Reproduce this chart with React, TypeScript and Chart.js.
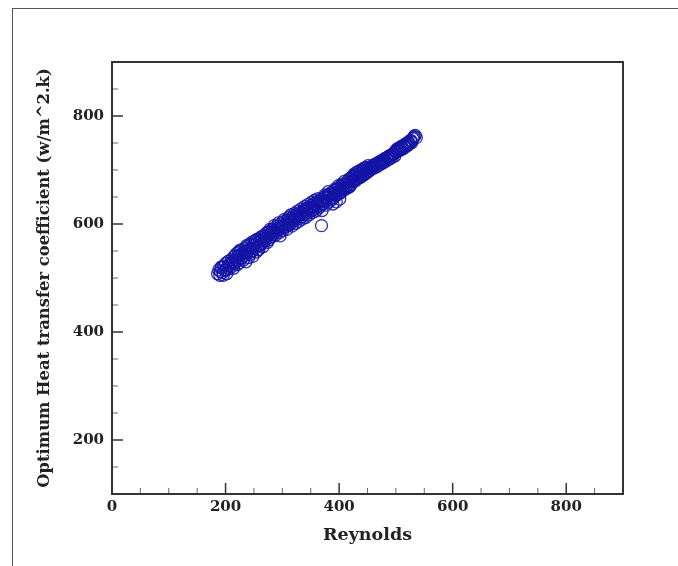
import React, { useEffect, useRef } from "react";
import { Chart, registerables } from "chart.js";
Chart.register(...registerables);

const reynolds = [
  186, 188, 190, 191, 193, 195, 197, 199, 200, 202, 204, 205, 207, 209, 210, 212, 213, 215, 216, 218,
  219, 220, 222, 223, 224, 226, 227, 228, 230, 231, 232, 234, 235, 236, 238, 239, 240, 242, 243, 244,
  246, 247, 248, 250, 251, 252, 254, 255, 256, 258, 259, 260, 262, 263, 265, 266, 268, 270, 271, 272,
  274, 276, 277, 279, 280, 282, 284, 285, 287, 289, 290, 292, 294, 296, 297, 298, 300, 302, 304, 305,
  307, 309, 310, 312, 314, 316, 318, 320, 322, 324, 326, 328, 330, 332, 334, 336, 338, 340, 342, 344,
  346, 348, 350, 352, 354, 356, 358, 360, 362, 364, 366, 368, 369, 370, 371, 372, 374, 376, 378, 380,
  382, 384, 386, 388, 389, 390, 392, 394, 395, 396, 398, 400, 401, 402, 404, 406, 408, 410, 412, 414,
  416, 418, 419, 420, 422, 424, 426, 428, 430, 432, 434, 436, 438, 440, 442, 444, 446, 448, 450, 452,
  454, 456, 458, 460, 462, 464, 466, 468, 470, 472, 474, 476, 478, 480, 482, 484, 486, 488, 490, 492,
  494, 496, 498, 500, 502, 504, 506, 508, 510, 512, 514, 516, 518, 520, 522, 524, 526, 528, 530, 532,
  534, 536,
  192, 196, 201, 206, 211, 214, 217, 221, 225, 229, 233, 237, 241, 245, 249, 253, 257, 261, 264, 267,
  269, 273, 275, 278, 281, 283, 286, 288, 291, 293, 295, 299, 301, 303, 306, 308, 311, 313, 315, 317,
  319, 321, 323, 325, 327, 329, 331, 333, 335, 337, 339, 341, 343, 345, 347, 349, 351, 353, 355, 357,
  359, 361, 363, 365, 367, 373, 375, 377, 379, 381, 383, 385, 387, 391, 393, 397, 399, 403, 405, 407,
  409, 411, 413, 415, 417, 421, 423, 425, 427, 429, 431, 433, 435, 437, 439, 441, 443, 445, 447, 449,
  451, 455, 459, 463, 467, 471, 475, 479, 483, 487, 491, 495, 499, 503, 507, 511, 515, 519, 523, 527,
  531,
];

const heatCoeff = [
  508, 515, 505, 512, 519, 510, 522, 514, 527, 508, 520, 531, 517, 525, 534, 522, 529, 540, 527, 535,
  545, 531, 540, 548, 528, 543, 536, 552, 546, 533, 541, 555, 549, 530, 545, 558, 551, 562, 544, 555,
  566, 550, 540, 560, 568, 555, 548, 565, 572, 560, 553, 568, 575, 563, 571, 558, 578, 569, 582, 575,
  566, 580, 586, 576, 583, 590, 580, 587, 593, 585, 591, 597, 589, 578, 595, 601, 592, 598, 605, 594,
  601, 607, 598, 604, 610, 603, 609, 615, 606, 612, 618, 610, 616, 622, 613, 620, 626, 617, 624, 630,
  621, 628, 634, 625, 632, 638, 629, 636, 642, 633, 640, 646, 597, 625, 637, 644, 650, 641, 648, 654,
  645, 652, 658, 649, 637, 656, 662, 653, 641, 660, 666, 657, 646, 664, 670, 661, 668, 674, 665, 672,
  678, 669, 670, 684, 678, 686, 682, 690, 684, 692, 687, 694, 689, 696, 691, 699, 694, 701, 697, 704,
  699, 706, 702, 709, 704, 711, 706, 713, 709, 716, 711, 718, 714, 721, 716, 723, 719, 726, 721, 728,
  724, 731, 726, 733, 739, 735, 741, 737, 744, 739, 746, 742, 749, 745, 752, 748, 755, 751, 758, 762,
  764, 760,
  520, 505, 516, 523, 530, 518, 541, 525, 551, 538, 548, 560, 538, 549, 563, 570, 552, 561, 577, 566,
  573, 584, 570, 590, 576, 586, 597, 579, 588, 602, 584, 596, 588, 608, 599, 590, 612, 598, 617, 596,
  607, 619, 601, 614, 624, 605, 619, 628, 609, 624, 632, 612, 627, 636, 617, 630, 640, 621, 627, 644,
  624, 638, 647, 630, 643, 638, 654, 635, 650, 660, 641, 656, 645, 649, 665, 654, 671, 658, 674, 664,
  679, 668, 676, 667, 683, 673, 688, 679, 693, 680, 696, 684, 698, 686, 700, 689, 703, 692, 705, 695,
  708, 702, 706, 709, 712, 714, 716, 719, 722, 724, 726, 729, 735, 737, 739, 742, 744, 747, 750, 753,
  760,
];

const xTickLabels = [0, 200, 400, 600, 800];
const yTickLabels = [200, 400, 600, 800];
const xMinorTicks = [50, 100, 150, 250, 300, 350, 450, 500, 550, 650, 700, 750, 850];
const yMinorTicks = [150, 250, 300, 350, 450, 500, 550, 650, 700, 750, 850];

const FONT = "'DejaVu Serif', serif";

export default function App() {
  const ref = useRef<HTMLCanvasElement>(null);

  useEffect(() => {
    document.body.style.margin = "0";
    const canvas = ref.current;
    if (!canvas) return;

    const framePlugin = {
      id: "frameTicks",
      afterDatasetsDraw(chart: any) {
        const { ctx, chartArea } = chart;
        const xs = chart.scales.x;
        const ys = chart.scales.y;
        ctx.save();
        ctx.strokeStyle = "#333";
        ctx.lineWidth = 1.5;
        ctx.beginPath();
        xTickLabels.forEach((v) => {
          const px = xs.getPixelForValue(v);
          ctx.moveTo(px, chartArea.bottom);
          ctx.lineTo(px, chartArea.bottom - 11);
        });
        yTickLabels.forEach((v) => {
          const py = ys.getPixelForValue(v);
          ctx.moveTo(chartArea.left, py);
          ctx.lineTo(chartArea.left + 11, py);
        });
        ctx.stroke();
        ctx.strokeStyle = "#666";
        ctx.lineWidth = 1;
        ctx.beginPath();
        xMinorTicks.forEach((v) => {
          const px = xs.getPixelForValue(v);
          ctx.moveTo(px, chartArea.bottom);
          ctx.lineTo(px, chartArea.bottom - 6);
        });
        yMinorTicks.forEach((v) => {
          const py = ys.getPixelForValue(v);
          ctx.moveTo(chartArea.left, py);
          ctx.lineTo(chartArea.left + 6, py);
        });
        ctx.stroke();
        ctx.strokeStyle = "#333";
        ctx.lineWidth = 2;
        ctx.strokeRect(
          chartArea.left,
          chartArea.top,
          chartArea.right - chartArea.left,
          chartArea.bottom - chartArea.top
        );
        ctx.restore();
      },
    };

    const chart = new Chart(canvas, {
      type: "scatter",
      data: {
        datasets: [
          {
            data: reynolds.map((x, i) => ({ x, y: heatCoeff[i] })),
            pointStyle: "circle",
            pointRadius: 6,
            pointBorderWidth: 1.3,
            borderColor: "rgba(20,20,165,0.9)",
            backgroundColor: "rgba(0,0,0,0)",
            pointBackgroundColor: "rgba(0,0,0,0)",
          },
        ],
      },
      options: {
        responsive: false,
        animation: false,
        devicePixelRatio: 1,
        layout: { padding: { left: 20, top: 62, right: 55, bottom: 10 } },
        plugins: {
          legend: { display: false },
          tooltip: { enabled: false },
        },
        scales: {
          x: {
            type: "linear",
            min: 0,
            max: 900,
            grid: { display: false, drawTicks: false },
            border: { display: false },
            afterBuildTicks: (s: any) => {
              s.ticks = xTickLabels.map((v) => ({ value: v }));
            },
            afterFit: (s: any) => {
              s.height = 62;
            },
            ticks: {
              padding: 4,
              color: "#222",
              font: { family: FONT, size: 15, weight: "bold" },
              maxRotation: 0,
            },
            title: {
              display: true,
              text: "Reynolds",
              color: "#222",
              font: { family: FONT, size: 17.5, weight: "bold" },
              padding: { top: 0, bottom: 10 },
            },
          },
          y: {
            type: "linear",
            min: 100,
            max: 900,
            grid: { display: false, drawTicks: false },
            border: { display: false },
            afterBuildTicks: (s: any) => {
              s.ticks = yTickLabels.map((v) => ({ value: v }));
            },
            afterFit: (s: any) => {
              s.width = 92;
            },
            ticks: {
              padding: 8,
              color: "#222",
              font: { family: FONT, size: 15, weight: "bold" },
            },
            title: {
              display: true,
              text: "Optimum Heat transfer coefficient (w/m^2.k)",
              color: "#222",
              font: { family: FONT, size: 16.4, weight: "bold" },
              padding: { top: 15, bottom: 0 },
            },
          },
        },
      },
      plugins: [framePlugin],
    } as any);

    return () => chart.destroy();
  }, []);

  return (
    <div style={{ position: "relative", width: 678, height: 566, background: "#fff" }}>
      <div
        style={{
          position: "absolute",
          left: 12,
          top: 8,
          right: 0,
          bottom: 0,
          borderLeft: "1px solid #555",
          borderTop: "1px solid #555",
        }}
      />
      <canvas
        ref={ref}
        width={678}
        height={566}
        style={{ position: "absolute", left: 0, top: 0 }}
      />
    </div>
  );
}
